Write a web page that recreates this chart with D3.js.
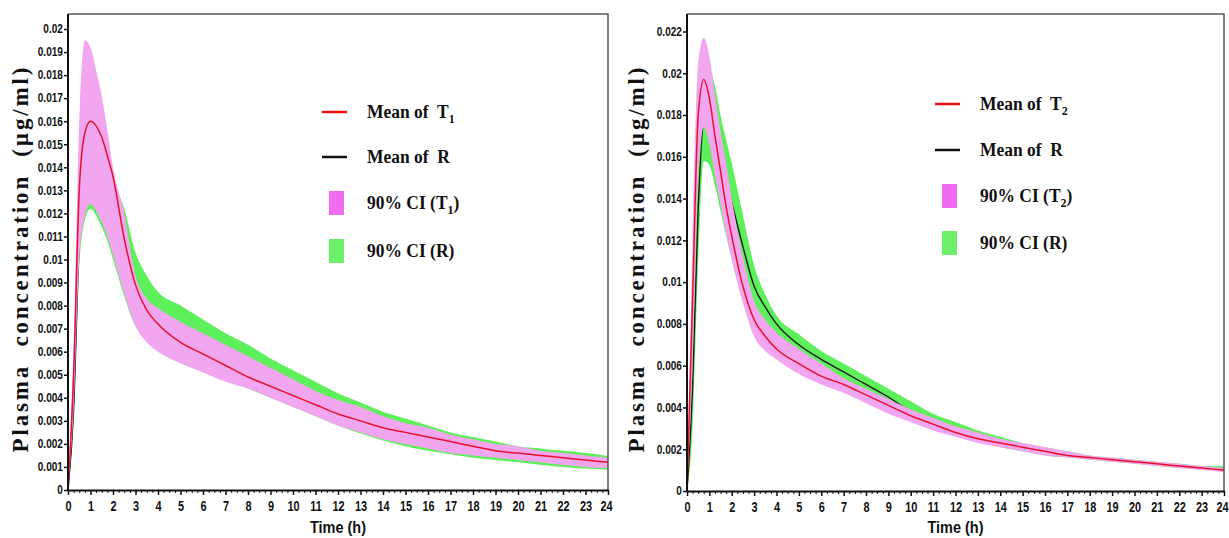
<!DOCTYPE html>
<html lang="en">
<head>
<meta charset="UTF-8">
<title>Plasma concentration profiles</title>
<script src="https://d3js.org/d3.v7.min.js"></script>
<style>
    html, body { margin: 0; padding: 0; background: #fff; }
    .tick text { font-family: "Liberation Sans", Arial, sans-serif; font-weight: bold; fill: #111; }
    .y-title { font-family: "Liberation Serif", "Times New Roman", serif; font-weight: bold; font-size: 23px; fill: #111; white-space: pre; }
    .x-title { font-family: "Liberation Sans", Arial, sans-serif; font-weight: bold; font-size: 17px; fill: #111; }
    .legend text { font-family: "Liberation Serif", "Times New Roman", serif; font-weight: bold; font-size: 19px; fill: #111; white-space: pre; }
</style>
</head>
<body>
<div id="chart"></div>
<script>
// sampling times (h)
const times = [0, 0.25, 0.5, 0.75, 1, 1.25, 1.5, 1.75, 2, 2.5, 3, 3.5, 4,
    5, 6, 7, 8, 9, 10, 11, 12, 13, 14, 15, 16, 17, 18, 19, 20, 21, 22, 23, 24];

// left panel: T1 vs R
const t1Mean  = [0, 0.0050, 0.0130, 0.0155, 0.0160, 0.0158, 0.0153, 0.0145, 0.0136, 0.0109, 0.0089, 0.0078, 0.0072,
    0.0064, 0.0059, 0.0054, 0.0049, 0.0045, 0.0041, 0.0037, 0.0033, 0.0030, 0.0027, 0.0025, 0.0023, 0.0021, 0.0019, 0.0017, 0.0016, 0.0015, 0.0014, 0.0013, 0.0012];
const t1Upper = [0, 0.0065, 0.0160, 0.0195, 0.0192, 0.0182, 0.0171, 0.0156, 0.0140, 0.0120, 0.0093, 0.0083, 0.0079,
    0.0073, 0.0068, 0.0063, 0.0058, 0.0053, 0.0048, 0.0043, 0.0039, 0.0036, 0.0032, 0.0029, 0.0027, 0.0024, 0.0022, 0.0020, 0.0019, 0.0017, 0.0016, 0.0015, 0.0014];
const t1Lower = [0, 0.0035, 0.0100, 0.0119, 0.0124, 0.0121, 0.0116, 0.0110, 0.0102, 0.0085, 0.0071, 0.0064, 0.0060,
    0.0055, 0.0051, 0.0047, 0.0044, 0.0040, 0.0036, 0.0032, 0.0028, 0.0025, 0.0022, 0.00198, 0.0018, 0.0016, 0.0015, 0.0014, 0.0013, 0.0012, 0.00108, 0.0010, 0.00095];
const r1Mean  = [0, 0.0035, 0.0108, 0.0133, 0.0141, 0.0139, 0.0133, 0.0126, 0.0118, 0.0103, 0.0087, 0.0079, 0.0074,
    0.0069, 0.0064, 0.0059, 0.0055, 0.0050, 0.0044, 0.0039, 0.0035, 0.0031, 0.0028, 0.0024, 0.0022, 0.0020, 0.0018, 0.0017, 0.0016, 0.0015, 0.0014, 0.0013, 0.0012];
const r1Upper = [0, 0.0040, 0.0120, 0.0150, 0.0160, 0.0158, 0.0152, 0.0145, 0.0135, 0.0122, 0.0103, 0.0093, 0.0086,
    0.0080, 0.0074, 0.0068, 0.0063, 0.0057, 0.0052, 0.0047, 0.0042, 0.0038, 0.0034, 0.0031, 0.0028, 0.0025, 0.0023, 0.0021, 0.0019, 0.0018, 0.0017, 0.0016, 0.00148];
const r1Lower = [0, 0.0030, 0.0097, 0.0117, 0.0122, 0.0119, 0.0114, 0.0108, 0.0100, 0.0084, 0.0071, 0.0065, 0.0062,
    0.0056, 0.0052, 0.0048, 0.0044, 0.0040, 0.0036, 0.0032, 0.0028, 0.00245, 0.00215, 0.0019, 0.0017, 0.00155, 0.0014, 0.0013, 0.0012, 0.0011, 0.0010, 0.00093, 0.00088];

// right panel: T2 vs R
const t2Mean  = [0, 0.0092, 0.0180, 0.0197, 0.0188, 0.0170, 0.0153, 0.0136, 0.0122, 0.0098, 0.0082, 0.0074, 0.0068,
    0.0061, 0.0055, 0.0051, 0.0046, 0.0041, 0.0036, 0.0032, 0.0028, 0.0025, 0.0023, 0.0021, 0.0019, 0.0017, 0.0016, 0.0015, 0.0014, 0.0013, 0.0012, 0.0011, 0.0010];
const t2Upper = [0, 0.0120, 0.0205, 0.0217, 0.0208, 0.0190, 0.0172, 0.0157, 0.0140, 0.0112, 0.0091, 0.0082, 0.0076,
    0.0068, 0.0061, 0.0054, 0.0049, 0.0044, 0.0039, 0.0035, 0.0031, 0.0028, 0.0025, 0.0023, 0.0021, 0.0019, 0.0017, 0.0016, 0.0015, 0.0014, 0.0013, 0.0012, 0.0011];
const t2Lower = [0, 0.0060, 0.0150, 0.0174, 0.0166, 0.0151, 0.0137, 0.0123, 0.0111, 0.0090, 0.0074, 0.0067, 0.0063,
    0.0056, 0.0051, 0.0047, 0.0042, 0.0037, 0.0033, 0.0029, 0.0026, 0.0023, 0.0021, 0.0019, 0.0017, 0.0016, 0.0015, 0.0014, 0.0013, 0.0012, 0.0011, 0.0010, 0.0009];
const r2Mean  = [0, 0.0050, 0.0135, 0.0175, 0.0172, 0.0166, 0.0157, 0.0148, 0.0138, 0.0117, 0.0098, 0.0088, 0.0080,
    0.0070, 0.0063, 0.0057, 0.0051, 0.0045, 0.0038, 0.0033, 0.0029, 0.0026, 0.0023, 0.0021, 0.0019, 0.0017, 0.0016, 0.0015, 0.0014, 0.0013, 0.0012, 0.0011, 0.00105];
const r2Upper = [0, 0.0075, 0.0160, 0.0190, 0.0202, 0.0194, 0.0180, 0.0168, 0.0157, 0.0132, 0.0108, 0.0094, 0.0084,
    0.0075, 0.0067, 0.0061, 0.0055, 0.0049, 0.0043, 0.0037, 0.0033, 0.0029, 0.0026, 0.0023, 0.0021, 0.0019, 0.0017, 0.0016, 0.0015, 0.0014, 0.0013, 0.0012, 0.00118];
const r2Lower = [0, 0.0030, 0.0110, 0.0158, 0.0156, 0.0146, 0.0134, 0.0122, 0.0111, 0.0091, 0.0077, 0.0070, 0.0065,
    0.0059, 0.0054, 0.0049, 0.0044, 0.0039, 0.0035, 0.0030, 0.0027, 0.0024, 0.0021, 0.0019, 0.0017, 0.0016, 0.0015, 0.0014, 0.0013, 0.0012, 0.0011, 0.00105, 0.0010];

// axis ticks
const xTicks = d3.range(0, 25);
const yTicksLeft = [0, 0.001, 0.002, 0.003, 0.004, 0.005, 0.006, 0.007, 0.008, 0.009, 0.01,
    0.011, 0.012, 0.013, 0.014, 0.015, 0.016, 0.017, 0.018, 0.019, 0.02];
const yTicksRight = [0, 0.002, 0.004, 0.006, 0.008, 0.01, 0.012, 0.014, 0.016, 0.018, 0.02, 0.022];

const colors = {
    mean: '#e8112d',
    ref: '#1a1a1a',
    bandT: '#f2a6f0',
    bandR: '#5ef05a',
    legendT: '#f26cf0',
    legendR: '#6cf06a'
};

const svg = d3.select('#chart').append('svg')
    .attr('width', 1229)
    .attr('height', 538);

function drawPanel(p) {
    const x = d3.scaleLinear().domain([0, 24]).range([p.left, p.right]);
    const y = d3.scaleLinear().domain([0, p.yMax]).range([p.bottom, p.yMaxPx]);

    const g = svg.append('g');

    const clipId = 'clip-' + p.id;
    g.append('clipPath').attr('id', clipId)
        .append('rect')
        .attr('x', p.left).attr('y', p.top)
        .attr('width', p.right - p.left).attr('height', p.bottom - p.top);

    const plot = g.append('g').attr('clip-path', `url(#${clipId})`);

    const band = (lo, hi) => d3.area()
        .x((d, i) => x(times[i]))
        .y0((d, i) => y(lo[i]))
        .y1((d, i) => y(hi[i]))
        .curve(d3.curveMonotoneX)(times);
    const line = vals => d3.line()
        .x((d, i) => x(times[i]))
        .y((d, i) => y(vals[i]))
        .curve(d3.curveMonotoneX)(times);

    plot.append('path').attr('d', band(p.rLower, p.rUpper)).attr('fill', colors.bandR);
    plot.append('path').attr('d', line(p.rMean)).attr('fill', 'none')
        .attr('stroke', colors.ref).attr('stroke-width', 1.4);
    plot.append('path').attr('d', band(p.tLower, p.tUpper)).attr('fill', colors.bandT);
    plot.append('path').attr('d', line(p.tMean)).attr('fill', 'none')
        .attr('stroke', colors.mean).attr('stroke-width', 1.5);

    // frame (top and right)
    g.append('path')
        .attr('d', `M${p.left},${p.top}H${p.right}V${p.bottom}`)
        .attr('fill', 'none').attr('stroke', '#555').attr('stroke-width', 1.5);

    // x axis with minor ticks
    const minor = d3.range(0, 24.001, 0.25).filter(v => v % 1 !== 0);
    g.append('g')
        .attr('transform', `translate(0,${p.bottom})`)
        .call(d3.axisBottom(x).tickValues(minor).tickSize(3).tickFormat(''))
        .call(a => a.select('.domain').remove())
        .selectAll('line').attr('stroke', '#111').attr('stroke-width', 1);

    const xAxis = g.append('g')
        .attr('transform', `translate(0,${p.bottom})`)
        .call(d3.axisBottom(x).tickValues(xTicks).tickSize(5).tickSizeOuter(0).tickPadding(6));
    xAxis.select('.domain').attr('stroke', '#111').attr('stroke-width', 2);
    xAxis.selectAll('.tick line').attr('stroke', '#111').attr('stroke-width', 1.5);
    xAxis.selectAll('.tick text')
        .style('font-size', '14px')
        .attr('transform', d => d === 24 ? 'translate(-2,0) scale(0.78,1)' : 'scale(0.78,1)');

    const fmt = d => d === 0 ? '0' : d3.format('.3~f')(d);
    const yAxis = g.append('g')
        .attr('transform', `translate(${p.left},0)`)
        .call(d3.axisLeft(y).tickValues(p.yTicks).tickSize(4).tickSizeOuter(0).tickPadding(2).tickFormat(fmt));
    yAxis.select('.domain').attr('d', `M0,${p.top}V${p.bottom}`)
        .attr('stroke', '#111').attr('stroke-width', 2);
    yAxis.selectAll('.tick line').attr('stroke', '#111').attr('stroke-width', 1.5);
    yAxis.selectAll('.tick text')
        .style('font-size', '12px')
        .attr('transform', 'scale(0.84,1)');

    // axis titles
    svg.append('text')
        .attr('class', 'y-title')
        .attr('transform', `translate(${p.yTitleX},260) rotate(-90)`)
        .attr('text-anchor', 'middle')
        .attr('textLength', 385)
        .attr('lengthAdjust', 'spacing')
        .text('Plasma  concentration  (\u00b5g/ml)');

    svg.append('text')
        .attr('class', 'x-title')
        .attr('transform', `translate(${(p.left + p.right) / 2},533) scale(0.85,1)`)
        .attr('text-anchor', 'middle')
        .text('Time (h)');

    // legend
    const lg = svg.append('g').attr('class', 'legend');
    const L = p.legend;
    lg.append('line')
        .attr('x1', L.x).attr('x2', L.x + 25).attr('y1', L.rows[0]).attr('y2', L.rows[0])
        .attr('stroke', '#f01010').attr('stroke-width', 2.5);
    lg.append('line')
        .attr('x1', L.x).attr('x2', L.x + 25).attr('y1', L.rows[1]).attr('y2', L.rows[1])
        .attr('stroke', '#111').attr('stroke-width', 2.5);
    lg.append('rect')
        .attr('x', L.x + 7).attr('y', L.rows[2] - 12).attr('width', 15).attr('height', 24)
        .attr('fill', colors.legendT);
    lg.append('rect')
        .attr('x', L.x + 7).attr('y', L.rows[3] - 12).attr('width', 15).attr('height', 24)
        .attr('fill', colors.legendR);

    const labels = [
        [['Mean of  T', 0], [p.sub, 1]],
        [['Mean of  R', 0]],
        [['90% CI (T', 0], [p.sub, 1], [')', -1]],
        [['90% CI (R)', 0]]
    ];
    labels.forEach((parts, i) => {
        const t = lg.append('text')
            .attr('transform', `translate(${L.x + 45},${L.rows[i] + 6}) scale(0.92,1)`);
        parts.forEach(([s, kind]) => {
            const ts = t.append('tspan').text(s);
            if (kind === 1) ts.attr('dy', 5).style('font-size', '13px');
            if (kind === -1) ts.attr('dy', -5);
        });
    });
}

drawPanel({
    id: 'left', left: 68, right: 608, top: 14, bottom: 490,
    yMax: 0.02, yMaxPx: 29, yTicks: yTicksLeft, yTitleX: 28,
    tMean: t1Mean, tUpper: t1Upper, tLower: t1Lower,
    rMean: r1Mean, rUpper: r1Upper, rLower: r1Lower,
    sub: '1',
    legend: { x: 322, rows: [112, 157, 203, 251] }
});

drawPanel({
    id: 'right', left: 687, right: 1224, top: 14, bottom: 491,
    yMax: 0.022, yMaxPx: 31.5, yTicks: yTicksRight, yTitleX: 644,
    tMean: t2Mean, tUpper: t2Upper, tLower: t2Lower,
    rMean: r2Mean, rUpper: r2Upper, rLower: r2Lower,
    sub: '2',
    legend: { x: 935, rows: [104, 150, 196, 243] }
});
</script>
</body>
</html>
